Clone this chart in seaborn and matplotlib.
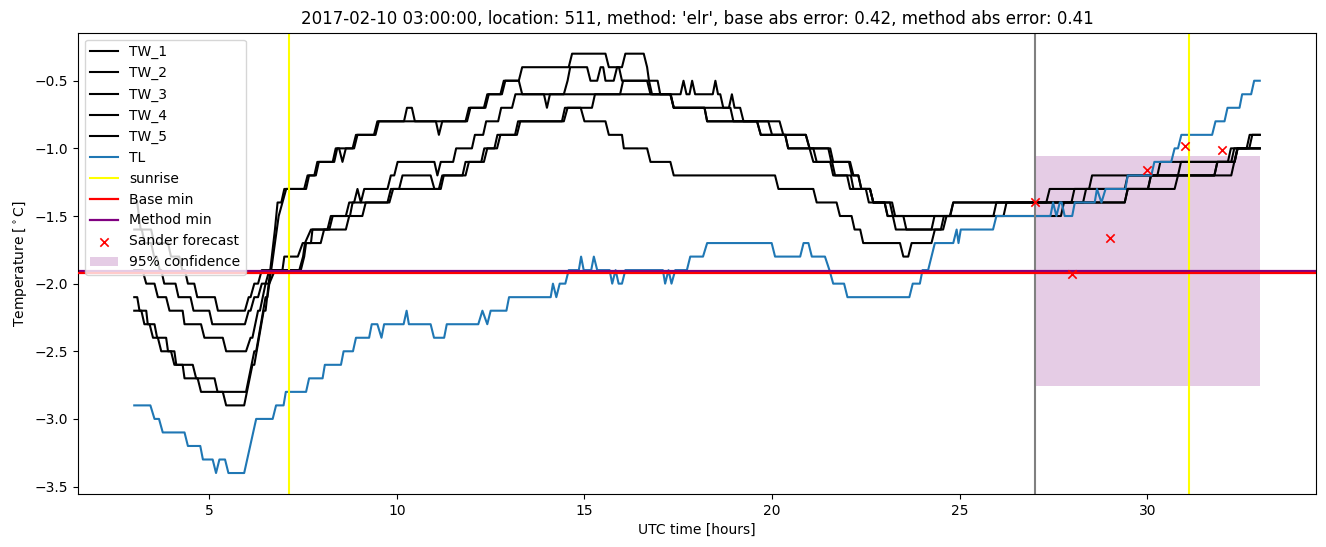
import matplotlib
matplotlib.use("Agg")
import matplotlib.pyplot as plt
import seaborn as sns

# ---------------- data (hour, temperature) vertices -------------
TW_1 = [(3.0,-2.2),(3.19,-2.2),(3.27,-2.3),(3.41,-2.3),(3.5,-2.4),(3.63,-2.4),(3.72,-2.5),(3.98,-2.5),
        (4.07,-2.6),(4.56,-2.6),(4.65,-2.7),(5.14,-2.7),(5.22,-2.8),(5.36,-2.8),(5.45,-2.9),(5.93,-2.9),
        (6.15,-2.6),(6.2,-2.6),(6.45,-2.2),(6.5,-2.2),(6.75,-1.6),(6.82,-1.4),(6.92,-1.4),(7.0,-1.3),
        (7.53,-1.3),(7.62,-1.2),(7.8,-1.2),(7.88,-1.1),(8.29,-1.1),(8.37,-1.0),(8.46,-1.0),(8.55,-1.1),
        (8.64,-1.0),(8.82,-1.0),(8.91,-0.9),(9.39,-0.9),(9.48,-0.8),(10.19,-0.8),(10.27,-0.7),(10.4,-0.7),
        (10.48,-0.8),(11.04,-0.8),(11.12,-0.9),(11.21,-0.8),(11.83,-0.8),(11.92,-0.7),(12.32,-0.7),
        (12.41,-0.6),(12.76,-0.6),(12.85,-0.5),(13.25,-0.5),(13.34,-0.4),(14.58,-0.4),(14.67,-0.3),
        (15.56,-0.3),(15.65,-0.4),(15.92,-0.4),(16.0,-0.5),(16.67,-0.5),(16.76,-0.6),(17.29,-0.6),
        (17.38,-0.7),(18.2,-0.7),(18.27,-0.8),(19.9,-0.8),(20.0,-0.9),(20.35,-0.9),(20.43,-1.0),
        (21.1,-1.0),(21.19,-1.1),(21.55,-1.1),(21.63,-1.2),(22.1,-1.2),(22.17,-1.3),(22.61,-1.3),
        (22.7,-1.4),(23.0,-1.4),(23.08,-1.5),(23.5,-1.5),(23.58,-1.6),(24.25,-1.6),(24.33,-1.5),
        (25.9,-1.5),(25.98,-1.4),(27.31,-1.4),(27.4,-1.3),(28.45,-1.3),(28.53,-1.2),(30.27,-1.2),
        (30.35,-1.1),(32.15,-1.1),(32.23,-1.0),(32.65,-1.0),(32.73,-0.9),(33.0,-0.9)]

TW_2 = [(3.0,-2.1),(3.08,-2.1),(3.14,-2.2),(3.32,-2.2),(3.36,-2.3),(3.54,-2.3),(3.61,-2.4),(3.85,-2.4),
        (3.9,-2.5),(4.07,-2.5),(4.12,-2.6),(4.29,-2.6),(4.34,-2.7),(4.69,-2.7),(4.78,-2.8),(5.98,-2.8),
        (6.2,-2.5),(6.25,-2.5),(6.5,-2.1),(6.55,-2.1),(6.8,-1.6),(6.85,-1.5),(6.95,-1.4),(7.05,-1.3),
        (7.58,-1.3),(7.66,-1.2),(7.84,-1.2),(7.92,-1.1),(8.33,-1.1),(8.41,-1.0),(8.86,-1.0),(8.95,-0.9),
        (9.43,-0.9),(9.52,-0.8),(11.87,-0.8),(11.96,-0.7),(12.36,-0.7),(12.45,-0.6),(12.8,-0.6),
        (12.89,-0.5),(13.25,-0.5),(13.34,-0.6),(13.92,-0.6),(14.0,-0.7),(14.08,-0.6),(14.45,-0.6),
        (14.55,-0.5),(14.62,-0.4),(15.07,-0.4),(15.16,-0.5),(15.34,-0.5),(15.43,-0.4),(15.5,-0.4),
        (15.56,-0.5),(15.78,-0.5),(15.87,-0.4),(16.0,-0.4),(16.09,-0.3),(16.58,-0.3),(16.67,-0.4),
        (16.72,-0.5),(16.8,-0.6),(17.56,-0.6),(17.64,-0.5),(17.72,-0.6),(17.8,-0.6),(17.87,-0.5),
        (17.95,-0.6),(18.42,-0.6),(18.49,-0.5),(18.56,-0.6),(18.62,-0.6),(18.7,-0.7),(18.85,-0.7),
        (18.93,-0.6),(19.0,-0.7),(19.15,-0.7),(19.24,-0.8),(20.2,-0.8),(20.3,-0.9),(20.9,-0.9),
        (21.0,-1.0),(21.55,-1.0),(21.63,-1.1),(22.08,-1.1),(22.17,-1.2),(22.3,-1.2),(22.38,-1.3),
        (22.61,-1.3),(22.7,-1.4),(23.2,-1.4),(23.28,-1.5),(26.17,-1.5),(26.25,-1.4),(27.98,-1.4),
        (28.06,-1.3),(29.4,-1.3),(29.48,-1.2),(30.82,-1.2),(30.9,-1.1),(32.33,-1.1),(32.41,-1.0),
        (32.72,-1.0),(32.8,-0.9),(33.0,-0.9)]

TW_3 = [(3.0,-1.4),(3.08,-1.4),(3.17,-1.6),(3.45,-1.6),(3.53,-1.7),(3.9,-1.7),(3.98,-1.8),(4.2,-1.8),
        (4.28,-1.9),(4.35,-1.9),(4.43,-2.0),(4.6,-2.0),(4.68,-2.1),(5.15,-2.1),(5.23,-2.2),(5.95,-2.2),
        (6.05,-2.1),(6.1,-2.1),(6.2,-2.0),(6.3,-2.0),(6.4,-1.9),(6.95,-1.9),(7.0,-1.8),(7.36,-1.8),
        (7.49,-1.7),(7.71,-1.7),(7.75,-1.6),(8.15,-1.6),(8.24,-1.5),(8.64,-1.5),(8.73,-1.4),(8.86,-1.4),
        (8.95,-1.3),(9.04,-1.4),(9.13,-1.3),(9.75,-1.3),(9.84,-1.2),(9.93,-1.2),(10.02,-1.1),(11.0,-1.1),
        (11.08,-1.2),(11.17,-1.1),(11.5,-1.1),(11.58,-1.0),(12.0,-1.0),(12.08,-0.9),(12.3,-0.9),
        (12.38,-0.8),(12.7,-0.8),(12.78,-0.7),(13.07,-0.7),(13.16,-0.6),(15.95,-0.6),(16.03,-0.5),
        (16.95,-0.5),(17.02,-0.6),(17.3,-0.6),(17.38,-0.7),(18.89,-0.7),(18.97,-0.8),(19.6,-0.8),
        (19.7,-0.9),(20.35,-0.9),(20.43,-1.0),(21.0,-1.0),(21.1,-1.1),(21.6,-1.1),(21.68,-1.2),
        (22.0,-1.2),(22.08,-1.3),(22.61,-1.3),(22.7,-1.4),(23.0,-1.4),(23.08,-1.5),(24.75,-1.5),
        (24.83,-1.4),(28.29,-1.4),(28.37,-1.3),(30.02,-1.3),(30.1,-1.2),(31.79,-1.2),(31.87,-1.1),
        (32.24,-1.1),(32.32,-1.0),(33.0,-1.0)]

TW_4 = [(3.0,-1.6),(3.2,-1.6),(3.28,-1.7),(3.45,-1.7),(3.53,-1.8),(3.6,-1.8),(3.68,-1.9),(3.72,-1.9),
        (3.8,-2.0),(4.1,-2.0),(4.18,-2.1),(4.5,-2.1),(4.58,-2.2),(5.0,-2.2),(5.08,-2.3),(5.95,-2.3),
        (6.05,-2.2),(6.1,-2.2),(6.2,-2.1),(6.3,-2.1),(6.4,-2.0),(6.5,-2.0),(6.6,-1.9),(7.44,-1.9),
        (7.53,-1.8),(7.58,-1.7),(7.97,-1.7),(8.06,-1.6),(8.64,-1.6),(8.73,-1.5),(9.08,-1.5),(9.17,-1.4),
        (9.75,-1.4),(9.84,-1.3),(10.06,-1.3),(10.15,-1.2),(10.9,-1.2),(11.0,-1.3),(11.12,-1.3),
        (11.21,-1.2),(11.83,-1.2),(11.92,-1.1),(12.32,-1.1),(12.41,-1.0),(12.67,-1.0),(12.76,-0.9),
        (13.2,-0.9),(13.29,-0.8),(14.4,-0.8),(14.48,-0.7),(15.2,-0.7),(15.28,-0.6),(17.29,-0.6),
        (17.38,-0.7),(18.2,-0.7),(18.27,-0.8),(19.6,-0.8),(19.7,-0.9),(20.9,-0.9),(21.0,-1.0),
        (21.5,-1.0),(21.58,-1.1),(22.05,-1.1),(22.13,-1.2),(22.3,-1.2),(22.38,-1.3),(22.5,-1.3),
        (22.58,-1.4),(23.14,-1.4),(23.22,-1.5),(23.3,-1.6),(24.5,-1.6),(24.58,-1.5),(27.7,-1.5),
        (27.78,-1.4),(29.4,-1.4),(29.48,-1.3),(30.73,-1.3),(30.82,-1.2),(31.79,-1.2),(31.87,-1.1),
        (32.33,-1.1),(32.41,-1.0),(33.0,-1.0)]

TW_5 = [(3.0,-1.9),(3.22,-1.9),(3.32,-2.0),(3.54,-2.0),(3.63,-2.1),(3.85,-2.1),(3.94,-2.2),(4.29,-2.2),
        (4.34,-2.3),(4.78,-2.3),(4.87,-2.4),(5.36,-2.4),(5.45,-2.5),(5.98,-2.5),(6.1,-2.4),(6.15,-2.4),
        (6.3,-2.2),(6.35,-2.2),(6.5,-2.0),(6.6,-2.0),(6.75,-1.9),(7.4,-1.9),(7.5,-1.8),(7.55,-1.7),
        (7.71,-1.6),(8.2,-1.6),(8.29,-1.5),(8.75,-1.5),(8.82,-1.4),(9.8,-1.4),(9.9,-1.3),(11.17,-1.3),
        (11.25,-1.2),(11.75,-1.2),(11.83,-1.1),(12.25,-1.1),(12.33,-1.0),(12.6,-1.0),(12.68,-0.9),
        (13.15,-0.9),(13.23,-0.8),(14.45,-0.8),(14.55,-0.7),(14.9,-0.7),(15.0,-0.8),(15.56,-0.8),
        (15.65,-0.9),(16.0,-0.9),(16.05,-1.0),(16.67,-1.0),(16.76,-1.1),(17.29,-1.1),(17.38,-1.2),
        (20.08,-1.2),(20.17,-1.3),(21.1,-1.3),(21.19,-1.4),(21.72,-1.4),(21.81,-1.5),(22.12,-1.5),
        (22.2,-1.6),(22.35,-1.6),(22.43,-1.7),(23.41,-1.7),(23.5,-1.8),(23.63,-1.8),(23.72,-1.7),
        (24.25,-1.7),(24.34,-1.6),(24.56,-1.6),(24.65,-1.5),(24.74,-1.5),(24.83,-1.4),(29.4,-1.4),
        (29.48,-1.3),(30.02,-1.3),(30.1,-1.2),(32.24,-1.2),(32.32,-1.1),(32.4,-1.0),(33.0,-1.0)]

TL = [(3.0,-2.9),(3.43,-2.9),(3.54,-3.0),(3.66,-3.0),(3.76,-3.1),(4.34,-3.1),(4.43,-3.2),(4.76,-3.2),
      (4.83,-3.3),(5.09,-3.3),(5.18,-3.4),(5.27,-3.3),(5.42,-3.3),(5.51,-3.4),(5.93,-3.4),(6.25,-3.0),
      (6.69,-3.0),(6.78,-2.9),(6.98,-2.9),(7.04,-2.8),(7.58,-2.8),(7.66,-2.7),(8.02,-2.7),(8.08,-2.6),
      (8.51,-2.6),(8.58,-2.5),(8.83,-2.5),(8.91,-2.4),(9.26,-2.4),(9.33,-2.3),(9.48,-2.3),(9.59,-2.4),
      (9.66,-2.3),(10.18,-2.3),(10.26,-2.2),(10.32,-2.3),(10.9,-2.3),(10.99,-2.4),(11.26,-2.4),
      (11.33,-2.3),(12.17,-2.3),(12.28,-2.2),(12.41,-2.3),(12.5,-2.2),(12.92,-2.2),(12.99,-2.1),
      (14.1,-2.1),(14.16,-2.0),(14.25,-2.1),(14.34,-2.0),(14.49,-2.0),(14.58,-1.9),(14.85,-1.9),
      (14.91,-1.8),(14.98,-1.9),(15.18,-1.9),(15.25,-1.8),(15.34,-1.9),(15.67,-1.9),(15.74,-2.0),
      (15.83,-1.9),(15.91,-2.0),(16.0,-2.0),(16.09,-1.9),(17.09,-1.9),(17.15,-2.0),(17.24,-1.9),
      (17.32,-2.0),(17.42,-1.9),(17.73,-1.9),(17.82,-1.8),(18.16,-1.8),(18.27,-1.7),(19.99,-1.7),
      (20.08,-1.8),(20.75,-1.8),(20.84,-1.7),(20.97,-1.7),(21.06,-1.8),(21.41,-1.8),(21.53,-1.9),
      (21.63,-2.0),(21.92,-2.0),(22.01,-2.1),(23.66,-2.1),(23.75,-2.0),(23.94,-2.0),(24.01,-1.9),
      (24.16,-1.9),(24.34,-1.7),(24.83,-1.7),(24.92,-1.6),(24.97,-1.7),(25.03,-1.6),(25.89,-1.6),
      (25.98,-1.5),(27.42,-1.5),(27.49,-1.4),(27.58,-1.5),(27.67,-1.4),(27.72,-1.4),(27.8,-1.5),
      (28.0,-1.5),(28.07,-1.4),(28.6,-1.4),(28.66,-1.3),(28.78,-1.4),(28.89,-1.3),(29.42,-1.3),
      (29.48,-1.2),(30.11,-1.2),(30.19,-1.1),(30.64,-1.1),(30.73,-1.0),(30.82,-1.0),(30.91,-0.9),
      (31.73,-0.9),(31.82,-0.8),(32.06,-0.8),(32.14,-0.7),(32.46,-0.7),(32.53,-0.6),(32.77,-0.6),
      (32.85,-0.5),(33.0,-0.5)]

sunrise_hours = [7.12, 31.12]
forecast_start = 27.0
base_min = -1.92
method_min = -1.91
sander_hours = [27, 28, 29, 30, 31, 32]
sander_temp = [-1.40, -1.93, -1.66, -1.16, -0.98, -1.01]
conf_hours = [27.0, 33.0]
conf_low = [-2.76, -2.76]
conf_high = [-1.06, -1.06]

title = ("2017-02-10 03:00:00, location: 511, method: 'elr', "
         "base abs error: 0.42, method abs error: 0.41")

# ---------------- plot ----------------
fig = plt.figure(figsize=(13.26, 5.47), dpi=100)
ax = fig.add_axes([0.0588, 0.0969, 0.9337, 0.8433])

for name, series in [("TW_1", TW_1), ("TW_2", TW_2), ("TW_3", TW_3),
                     ("TW_4", TW_4), ("TW_5", TW_5)]:
    hh, tt = zip(*series)
    sns.lineplot(x=list(hh), y=list(tt), color="black", label=name, ax=ax,
                 estimator=None, sort=False, errorbar=None, linewidth=1.5)

hh, tt = zip(*TL)
sns.lineplot(x=list(hh), y=list(tt), color="#1f77b4", label="TL", ax=ax,
             estimator=None, sort=False, errorbar=None, linewidth=1.5)

ax.axvline(sunrise_hours[0], color="yellow", label="sunrise", linewidth=1.5)
ax.axvline(sunrise_hours[1], color="yellow", linewidth=1.5)
ax.axhline(base_min, color="red", label="Base min", linewidth=1.6, zorder=2.6)
ax.axhline(method_min, color="purple", label="Method min", linewidth=1.6, zorder=2.5)
sns.scatterplot(x=sander_hours, y=sander_temp, marker="x", color="red",
                label="Sander forecast", ax=ax, s=36, linewidth=1.2, zorder=3)
ax.fill_between(conf_hours, conf_low, conf_high, color="purple", alpha=0.2,
                linewidth=0, label="95% confidence")
ax.axvline(forecast_start, color="grey", linewidth=1.5)

ax.set_xlim(1.5, 34.5)
ax.set_ylim(-3.555, -0.145)
ax.set_xlabel("UTC time [hours]")
ax.set_ylabel(r"Temperature [$^\circ$C]")
ax.set_title(title)
ax.legend(loc="upper left")

fig.savefig("out.png", dpi=100)
